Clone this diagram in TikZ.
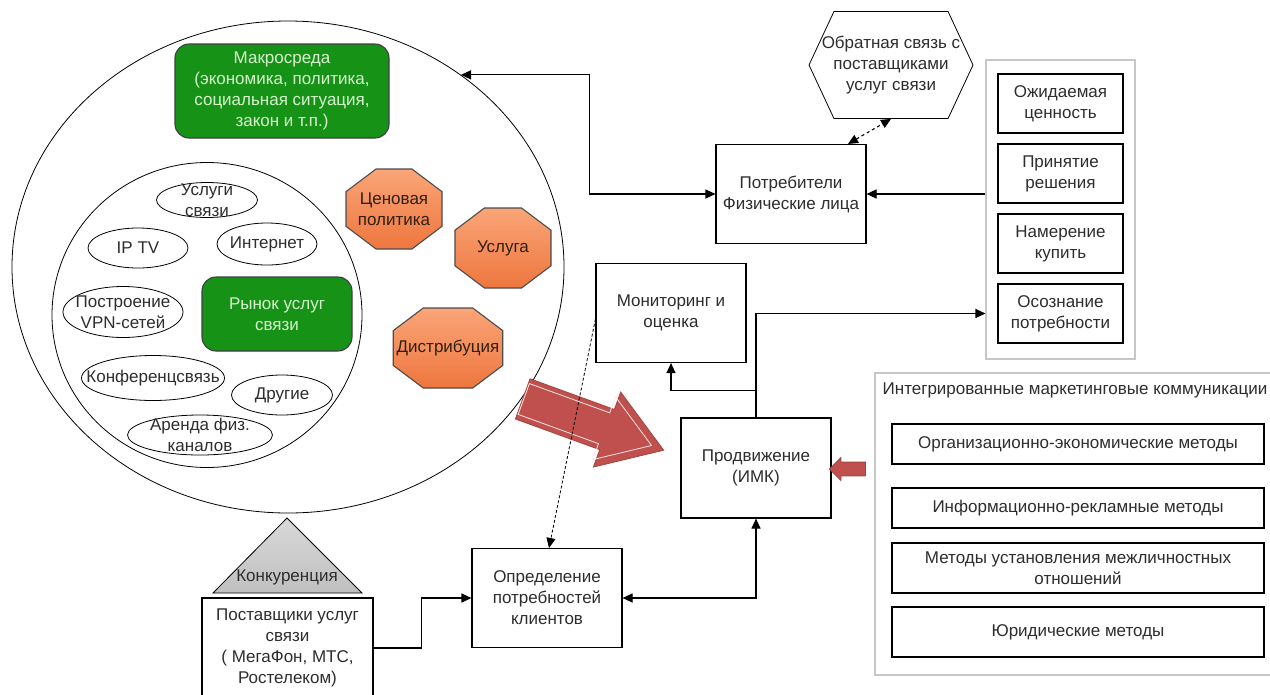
\documentclass[tikz,border=0pt]{standalone}
\usepackage{fontspec}
\setmainfont{Liberation Sans}
\usetikzlibrary{shapes.geometric, shapes.misc, shapes.symbols, shapes.arrows, arrows.meta}

\definecolor{dkgreen}{RGB}{22,146,22}
\definecolor{palegreen}{RGB}{215,245,205}
\definecolor{orangetop}{RGB}{250,165,120}
\definecolor{orangebot}{RGB}{238,118,62}
\definecolor{brickred}{RGB}{192,80,77}
\definecolor{txtgray}{RGB}{45,45,45}

\begin{document}
\begin{tikzpicture}[x=1pt, y=-1pt, font=\fontsize{17}{21}\selectfont, text=txtgray, align=center, line width=1.1pt, node distance=70pt,
	box/.style = {draw, rectangle, minimum width=150pt, minimum height=99pt, inner sep=2pt},
	stage/.style = {draw, rectangle, minimum width=125pt, minimum height=59pt, inner sep=1pt},
	method/.style = {draw, rectangle, minimum width=372pt, minimum height=40pt, inner sep=1pt},
	panel/.style = {draw=black!22, rectangle, inner sep=0pt},
	macro/.style = {draw=black!75, fill=dkgreen, text=palegreen, rounded corners=14pt, inner sep=2pt},
	svc/.style = {draw, ellipse, inner sep=0pt, line width=0.8pt},
	oct/.style = {chamfered rectangle, chamfered rectangle angle=53, chamfered rectangle ysep=20pt, draw=black!70, top color=orangetop, bottom color=orangebot, minimum width=96pt, minimum height=80pt, inner sep=0pt, text=black!75!brown},
	one/.style = {-{Triangle[length=10pt, width=9pt]}},
	both/.style = {{Triangle[length=10pt, width=9pt]}-{Triangle[length=10pt, width=9pt]}},
	redarrow/.style = {single arrow, fill=brickred, draw=brickred!85!black, line width=0.8pt, inner xsep=0pt}]
	\clip (0,0) rectangle (1270,694);
	\fill[white] (0,0) rectangle (1270,694);

	% market circles
	\node[draw, ellipse, minimum width=552pt, minimum height=492pt, inner sep=0pt, line width=0.8pt] (outer) at (288,267) {};
	\node[draw, ellipse, minimum width=310pt, minimum height=305pt, inner sep=0pt, line width=0.8pt] (inner) at (207,315) {};
	\node[macro, minimum width=214pt, minimum height=94pt] (makro) at (282,91) {Макросреда\\(экономика, политика,\\социальная ситуация,\\закон и т.п.)};
	\node[macro, minimum width=150pt, minimum height=74pt] (rynok) at (277,314) {Рынок услуг\\связи};

	\node[svc, minimum width=101pt, minimum height=35pt, label={[align=center]center:Услуги\\связи}] (uslugi) at (207,200) {};
	\node[svc, minimum width=100pt, minimum height=40pt, label={center:IP TV}] (iptv) at (138,248) {};
	\node[svc, minimum width=100pt, minimum height=42pt, label={center:Интернет}] (inet) at (267,244) {};
	\node[svc, minimum width=120pt, minimum height=51pt, label={[align=center]center:Построение\\VPN-сетей}] (vpn) at (123,312) {};
	\node[svc, minimum width=143pt, minimum height=45pt, label={center:Конференцсвязь}] (konf) at (153,378) {};
	\node[svc, minimum width=101pt, minimum height=40pt, label={center:Другие}] (drug) at (282,395) {};
	\node[svc, minimum width=145pt, minimum height=40pt, label={[align=center]center:Аренда физ.\\каналов}] (arenda) at (200,435) {};

	\node[oct] (cena) at (394,209) {Ценовая\\политика};
	\node[oct] (usluga) at (503,248) {Услуга};
	\node[oct, minimum width=108pt] (distr) at (448,348) {Дистрибуция};

	% competition
	\draw[top color=gray!30, bottom color=gray!50, line width=0.8pt] (287,518) -- (362,593) -- (213,593) -- cycle;
	\node (konk) at (287,577) {Конкуренция};
	\node[box, minimum width=171pt, minimum height=100pt] (postav) at (287.5,648) {Поставщики услуг\\связи\\( МегаФон, МТС,\\Ростелеком)};

	% main boxes
	\node[box] (potr) at (791,194) {Потребители\\Физические лица};
	\node[draw, signal, signal to=west and east, signal pointer angle=130, minimum width=164pt, minimum height=107pt, inner sep=0pt, line width=0.8pt, label={[align=center]center:Обратная связь с\\поставщиками\\услуг связи}] (obrat) at (891,65) {};
	\node[box] (monit) at (671,313) {Мониторинг и\\оценка};
	\node[box, minimum height=100pt] (prodv) at (756,468) {Продвижение\\(ИМК)};
	\node[box] (opred) at (547,598) {Определение\\потребностей\\клиентов};

	% buying stages
	\node[panel, minimum width=149pt, minimum height=299pt] (stages) at (1060.5,209.5) {};
	\node[stage] (ozhid) at (1060.5,103.5) {Ожидаемая\\ценность};
	\node[stage, below of = ozhid] (prin) {Принятие\\решения};
	\node[stage, below of = prin] (namer) {Намерение\\купить};
	\node[stage, below of = namer] (osozn) {Осознание\\потребности};

	% IMC methods
	\node[panel, minimum width=410pt, minimum height=302pt] (imk) at (1080,524) {};
	\node (imktitle) at (1075,390) {Интегрированные маркетинговые коммуникации};
	\node[method] (org) at (1078,444) {Организационно-экономические методы};
	\node[method, below of = org, node distance=64pt] (inf) {Информационно-рекламные методы};
	\node[method, minimum height=50pt, below of = inf, node distance=60pt] (mezh) {Методы установления межличностных\\отношений};
	\node[method, minimum height=50pt, below of = mezh, node distance=64pt] (yur) {Юридические методы};

	% red arrows
	\node[redarrow, rotate=-20, minimum height=150pt, inner ysep=21pt, single arrow head extend=18.5pt, single arrow tip angle=67] (flow) at (578,419) {};
	\node[single arrow, rotate=-20, draw=white!90!red, line width=0.8pt, inner xsep=0pt, inner ysep=16pt, minimum height=136pt, single arrow head extend=17pt, single arrow tip angle=67] (flowin) at (576,418) {};
	\node[redarrow, rotate=180, minimum height=36pt, inner ysep=6.5pt, single arrow head extend=4.5pt] (imkarrow) at (851,469) {};

	% connectors
	\draw[both] (potr.west) -- ++(-126,0) |- (outer.48.5);
	\draw[one] (stages.west |- potr) -- (potr.east);
	\draw[both, dashed] ([xshift=57pt]potr.north) -- (obrat.south);
	\draw[one] (prodv.north) |- (stages.west |- osozn);
	\draw[one] ([yshift=27pt]prodv.north) -| (monit.south);
	\draw[both] (opred.east) -| (prodv.south);
	\draw[one] (postav.east) -- ++(48,0) |- (opred.west);
	\draw[one, densely dashed, line width=0.8pt] ([yshift=-6pt]monit.west) -- ([xshift=2pt]opred.north);
\end{tikzpicture}
\end{document}
